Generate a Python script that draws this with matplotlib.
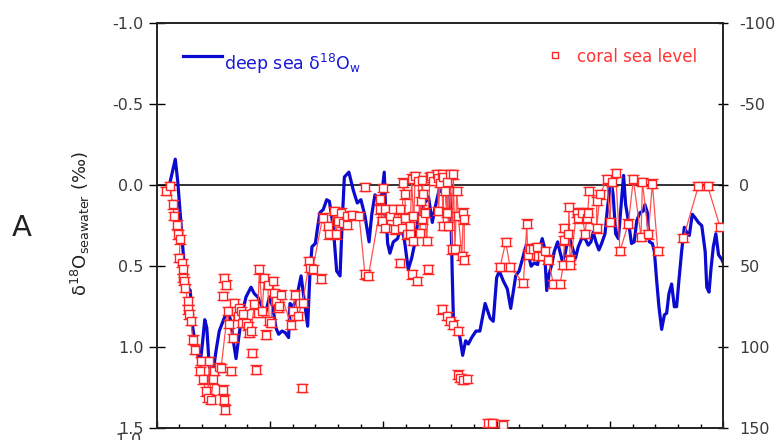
"""Deep-sea seawater d18O vs. coral sea level, last 250 kyr (panel A)."""

import numpy as np
import matplotlib

matplotlib.use("Agg")
import matplotlib.pyplot as plt
from matplotlib.ticker import MultipleLocator, FormatStrFormatter

plt.rcParams["axes.unicode_minus"] = False
plt.rcParams["font.family"] = ["DejaVu Sans"]

# deep sea d18O of seawater (permil), age in ka
deep_age = [
    5.6, 8.2, 9.3, 10.7, 12.2, 13.7, 14.8, 15.9, 17.3, 19.2, 20.3, 21.2, 22.1, 23.2, 24.7, 26.2,
    27.6, 29.8, 31.3, 32.8, 33.8, 35.0, 36.2, 37.6, 39.4, 41.6, 43.1, 44.6, 46.5, 47.9, 49.7, 51.2,
    52.6, 53.8, 55.3, 56.7, 58.2, 58.8, 60.3, 61.8, 63.7, 65.1, 66.6, 67.6, 68.5, 70.0, 71.0, 72.0,
    73.5, 75.0, 76.2, 77.9, 79.4, 80.9, 81.8, 82.8, 84.8, 86.7, 88.5, 90.1, 91.9, 93.7, 94.9, 96.3,
    97.8, 99.3, 100.4, 101.0, 101.9, 102.9, 104.4, 106.3, 107.8, 109.2, 111.0, 112.5, 114.0, 115.4,
    117.2, 118.7, 119.9, 121.6, 122.8, 124.6, 126.5, 128.0, 129.0, 129.9, 130.4, 130.9, 132.4, 133.8,
    135.0, 136.3, 137.5, 139.0, 140.9, 142.6, 144.9, 147.1, 148.5, 150.0, 151.2, 152.9, 154.7, 156.2,
    157.4, 158.4, 159.9, 161.3, 162.8, 164.0, 165.2, 166.6, 168.1, 169.1, 170.1, 171.0, 172.1, 173.1,
    174.3, 175.4, 176.9, 177.9, 179.0, 180.1, 181.2, 182.3, 183.3, 184.8, 186.0, 187.5, 189.0, 190.4,
    191.6, 192.6, 193.8, 195.1, 196.3, 197.8, 198.9, 200.4, 201.4, 202.5, 203.7, 204.8, 206.0, 206.9,
    208.1, 209.5, 210.7, 211.8, 213.2, 214.7, 215.4, 216.5, 217.4, 218.7, 219.6, 220.6, 221.6, 222.8,
    224.0, 225.0, 226.0, 227.2, 228.4, 229.4, 230.4, 231.6, 232.8, 233.8, 235.0, 236.3, 237.5, 239.0,
    240.5, 242.0, 242.7, 243.7, 244.6, 245.6, 246.7, 247.9, 249.4, 250.0,
]
deep_d18o = [
    0.00, -0.16, -0.02, 0.24, 0.51, 0.63, 0.65, 0.88, 1.00, 1.10, 0.96, 0.83, 0.88, 1.12, 1.17, 1.02,
    0.90, 0.82, 0.78, 0.84, 0.96, 1.07, 0.94, 0.80, 0.69, 0.63, 0.67, 0.69, 0.75, 0.80, 0.69, 0.75,
    0.88, 0.92, 0.90, 0.91, 0.94, 0.73, 0.75, 0.69, 0.56, 0.71, 0.87, 0.55, 0.38, 0.36, 0.26, 0.17,
    0.15, 0.09, 0.10, 0.26, 0.53, 0.56, 0.24, -0.05, -0.08, 0.03, 0.11, 0.09, 0.19, 0.35, 0.18, 0.06,
    0.08, 0.06, -0.08, 0.14, 0.36, 0.42, 0.35, 0.33, 0.25, 0.33, 0.52, 0.45, 0.35, 0.20,
    0.13, 0.10, 0.07, 0.23, 0.14, 0.03, 0.05, 0.02, -0.07, 0.24, 0.55, 0.82, 0.88, 0.94,
    1.05, 0.96, 0.98, 0.94, 0.90, 0.90, 0.73, 0.82, 0.84, 0.57, 0.53, 0.59, 0.64, 0.76,
    0.65, 0.56, 0.53, 0.46, 0.38, 0.43, 0.50, 0.48, 0.49, 0.38, 0.33, 0.38, 0.65, 0.55,
    0.49, 0.41, 0.35, 0.41, 0.47, 0.43, 0.35, 0.33, 0.38, 0.45, 0.38, 0.33, 0.33, 0.37,
    0.35, 0.29, 0.35, 0.40, 0.36, 0.30, 0.14, -0.03, 0.06, 0.30, 0.33, 0.14, -0.06, 0.12,
    0.22, 0.36, 0.35, 0.22, 0.17, 0.16, 0.12, 0.17, 0.35, 0.36, 0.41, 0.59, 0.75, 0.89,
    0.80, 0.79, 0.67, 0.61, 0.75, 0.75, 0.59, 0.41, 0.26, 0.29, 0.31, 0.18, 0.20, 0.23,
    0.25, 0.41, 0.63, 0.66, 0.51, 0.38, 0.30, 0.43, 0.46, 0.48,
]

# coral sea level (m) -- samples joined by the thin line
coral_age = [
    4.1, 5.9, 7.0, 7.8, 8.8, 9.3, 10.3, 10.0, 11.2, 11.5, 11.8, 12.2, 12.6, 13.7, 14.0, 14.4, 15.1,
    15.9, 17.0, 19.1, 19.5, 20.3, 21.8, 22.5, 23.2, 24.0, 25.0, 25.4, 27.6, 28.4, 31.3, 31.8, 33.5,
    34.3, 35.0, 35.7, 36.5, 37.2, 37.6, 38.2, 39.4, 40.1, 40.9, 41.6, 43.1, 44.6, 45.3, 46.5, 47.5,
    49.0, 49.7, 50.4, 51.2, 51.9, 52.6, 53.4, 54.1, 54.8, 59.3, 60.0, 61.2, 62.2, 64.4, 67.4, 67.7,
    68.8, 73.2, 75.4, 76.2, 78.4, 79.1, 79.9, 81.3, 82.1,
    83.8, 83.8, 86.0, 89.3, 91.9, 93.4, 98.5, 98.5, 99.3, 100.7, 100.7, 102.9, 104.4, 105.1, 105.9,
    107.4, 108.1, 108.8, 109.6, 109.6, 110.3, 111.8, 111.8, 112.5, 113.2, 113.2, 114.0, 115.4, 116.2,
    116.6, 116.9, 117.0, 117.6, 118.4, 119.1, 120.6, 121.0, 122.1, 123.5, 124.0, 124.3, 125.0, 125.7,
    126.5, 126.5, 127.2, 127.9, 128.0, 128.7, 129.4, 130.2, 130.9, 131.6, 132.4, 133.1, 134.6, 135.3,
    135.7, 135.7,
    151.5, 154.0, 155.9, 161.8, 163.3, 163.7, 164.7, 166.2,
    167.7, 168.1, 169.9, 171.3, 172.8, 175.0, 178.0, 179.4, 179.9, 179.9, 181.6, 181.9, 182.4, 182.4,
    185.3, 185.7, 187.5, 189.0, 189.7, 190.2, 190.8, 194.1, 194.1, 195.6, 198.6, 200.0, 200.8, 202.5,
    204.4, 208.1, 210.3, 213.7, 214.3, 216.9, 218.7, 221.1,
    232.4, 239.0, 243.1, 248.6,
]
coral_level = [
    3.7, 0.6, 11.9, 19.1, 24.3, 30.4, 33.5, 44.8, 47.9, 52.0, 57.2, 59.2, 63.4, 71.6, 76.7, 79.8, 83.9,
    95.3, 101.4, 114.8, 108.6, 119.9, 127.2, 131.3, 108.6, 132.3, 119.9, 114.8, 112.3, 112.7, 77.8, 85.6, 94.2,
    72.6, 77.8, 80.8, 75.7, 77.8, 85.0, 79.8, 85.0, 87.0, 91.1, 90.1, 73.6, 78.8, 52.0, 77.8, 57.2,
    61.3, 83.9, 85.0, 59.2, 66.4, 71.6, 75.7, 74.7, 67.5, 86.0, 77.8, 67.5, 80.8, 72.6, 46.9, 51.0,
    52.0, 20.1, 25.3, 30.4, 16.0, 30.4, 22.2, 17.0, 23.2,
    19.1, 24.3, 18.5, 19.1, 55.1, 56.1, 15.0, 8.8, 22.2, 15.0, 26.3, 19.1, 15.0, 27.3, 22.2,
    15.0, 26.3, -1.5, 5.7, 20.1, 30.4, 25.3, 30.4, -4.0, 19.1, 34.5, -5.6, -2.5, 29.4,
    9.8, 21.2, -3.0, 5.7, 17.0, 34.5, -4.6, -5.5, -2.5, -6.6, -4.5, 16.0, -1.5, -6.6,
    25.3, -5.0, 3.7, 17.0, -2.0, 25.3, -6.6, 39.7, -6.6, 39.7, 3.7, 19.1, 43.8, 17.0,
    21.2, 45.9,
    50.6, 35.0, 50.6, 60.3, 23.8, 42.8, 39.1, 39.1,
    38.2, 43.8, 43.8, 40.7, 45.9, 60.9, 60.9, 49.4, 34.1, 26.3, 30.0, 13.5, 45.9, 49.0,
    17.0, 20.5, 17.0, 30.0, 20.5, 17.0, 3.7, 9.8, 26.7, 5.7, -3.5, 22.6, -2.1, -7.6,
    40.7, 23.8, -3.5, 32.1, -2.1, 30.4, -0.9, 40.7,
    32.5, 0.6, 0.6, 25.9,
]

# coral samples drawn without connecting line
coral_lone_age = [
    29.1, 29.8, 30.3, 29.1, 29.8, 30.6, 32.8, 42.1, 43.8, 48.2, 64.1, 72.5,
    91.9, 100.0, 107.4, 112.5, 114.7, 119.6, 125.7, 127.9, 129.4, 130.9, 133.1,
    133.1, 133.8, 135.3, 136.8, 146.3, 147.8, 153.0,
]
coral_lone_level = [
    126.1, 132.3, 138.5, 68.5, 57.2, 61.3, 114.8, 103.5, 113.8, 92.2, 125.1, 57.6,
    1.0, 1.6, 47.9, 55.1, 59.2, 52.0, 76.7, 80.8, 83.9, 86.0, 90.1,
    116.9, 118.9, 120.0, 119.5, 146.7, 146.7, 147.7,
]

BLUE = "#0a0ad0"
RED = "#ff2424"
GREY = "#3a3a3a"

fig = plt.figure(figsize=(7.75, 4.4), dpi=100)
ax = fig.add_axes([0.2022, 0.0266, 0.7311, 0.9211])
ax.set_xlim(0, 250)
ax.set_ylim(1.5, -1.0)
ax.axhline(0, color="#222222", lw=1.3, zorder=1)
ax.plot(deep_age, deep_d18o, color=BLUE, lw=2.3, zorder=2)

ax.yaxis.set_major_locator(MultipleLocator(0.5))
ax.yaxis.set_major_formatter(FormatStrFormatter("%.1f"))
ax.xaxis.set_major_locator(MultipleLocator(50))
ax.xaxis.set_minor_locator(MultipleLocator(10))
ax.tick_params(axis="y", direction="inout", length=12, width=1, pad=3.5, labelsize=11.5, labelcolor=GREY)
ax.tick_params(axis="x", which="major", direction="in", length=5, width=1, labelbottom=False)
ax.tick_params(axis="x", which="minor", direction="in", length=3, width=1)
for side in ax.spines.values():
    side.set_linewidth(1.2)
    side.set_color("#222222")

ax2 = ax.twinx()
ax2.set_ylim(150, -100)
ax2.yaxis.set_major_locator(MultipleLocator(50))
ax2.tick_params(axis="y", direction="inout", length=7, width=1, pad=8, labelsize=11.5, labelcolor=GREY)
for side in ax2.spines.values():
    side.set_linewidth(1.2)
    side.set_color("#222222")

# line through joined samples, broken where the record has a long gap
age = np.asarray(coral_age)
level = np.asarray(coral_level)
cuts = np.where(np.diff(age) > 8)[0] + 1
for seg_age, seg_level in zip(np.split(age, cuts), np.split(level, cuts)):
    ax2.plot(seg_age, seg_level, color="#ff5050", lw=0.9, zorder=3)

marker_kw = dict(fmt="s", ms=6, mfc="white", mec=RED, mew=1.0, ecolor=RED,
                 elinewidth=0.8, capsize=4, capthick=0.9, zorder=4)
ax2.errorbar(coral_age, coral_level, yerr=2.6, **marker_kw)
ax2.errorbar(coral_lone_age, coral_lone_level, yerr=2.6, **marker_kw)

# hand-placed legend entries
ax2.plot([0.046, 0.115], [0.919, 0.919], transform=ax2.transAxes, color=BLUE, lw=2.3)
ax2.text(0.119, 0.883, "deep sea δ$^{18}$O$_{\\mathrm{w}}$", transform=ax2.transAxes,
         color="#1818d8", fontsize=12.5, va="baseline")
ax2.plot([0.703], [0.921], transform=ax2.transAxes, marker="s", ms=4.5, mfc="white", mec=RED, mew=1.0)
ax2.text(0.742, 0.905, "coral sea level", transform=ax2.transAxes,
         color="#ff3535", fontsize=12, va="baseline")

fig.text(80 / 775, 1 - 224 / 440, "δ$^{18}$O$_{\\mathrm{seawater}}$ (‰)", rotation=90,
         ha="center", va="center", fontsize=13, color="#222222")
fig.text(22 / 775, 1 - 228 / 440, "A", ha="center", va="center", fontsize=21, color="#222222")
# top of the next panel's first tick label, cut by the frame
fig.text(126 / 775, 1 - 433 / 440, "-1.0", ha="center", va="top", fontsize=11.5, color=GREY)

fig.savefig("out.png", dpi=100)
